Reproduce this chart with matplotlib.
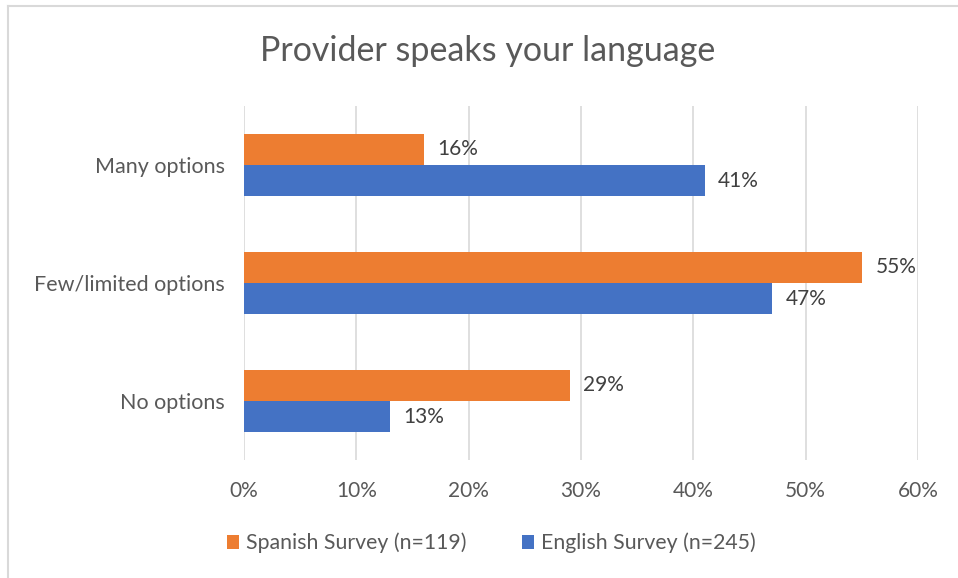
import matplotlib
matplotlib.use('Agg')
import matplotlib.pyplot as plt
import numpy as np
from matplotlib.lines import Line2D

categories = ['Many options', 'Few/limited options', 'No options']
spanish = [16, 55, 29]
english = [41, 47, 13]
series_names = ['Spanish Survey (n=119)', 'English Survey (n=245)']
ticks = [0, 10, 20, 30, 40, 50, 60]

orange = '#ED7D31'
blue = '#4472C4'
plt.rcParams['font.family'] = ['Lato', 'DejaVu Sans']

fig = plt.figure(figsize=(9.58, 5.78), dpi=100)
ax = fig.add_axes([244 / 958, 1 - 460 / 578, (918 - 244) / 958, (460 - 106) / 578])

y = np.arange(len(categories))[::-1].astype(float)
h = 0.263
b1 = ax.barh(y + h / 2, spanish, height=h, color=orange, label=series_names[0], zorder=3)
b2 = ax.barh(y - h / 2, english, height=h, color=blue, label=series_names[1], zorder=3)

for bars in (b1, b2):
    for r in bars:
        w = r.get_width()
        ax.text(w + 1.2, r.get_y() + r.get_height() / 2, f'{w:.0f}%',
                va='center', ha='left', fontsize=15, color='#404040')

ax.set_xlim(0, 60)
ax.set_ylim(-0.5, 2.5)
ax.set_xticks(ticks)
ax.set_xticklabels([f'{t}%' for t in ticks], fontsize=15, color='#595959')
ax.set_yticks(y)
ax.set_yticklabels(categories, fontsize=15.5, color='#595959')
ax.tick_params(axis='both', length=0)
ax.tick_params(axis='x', pad=15)
ax.tick_params(axis='y', pad=14)
ax.grid(axis='x', color='#D9D9D9', linewidth=1.2, zorder=0)
for s in ax.spines.values():
    s.set_visible(False)

fig.text(488 / 958, 1 - 51 / 578, 'Provider speaks your language', ha='center', va='center',
         fontsize=24.5, color='#595959')

fig.legend(handles=[b1, b2], labels=series_names, loc='center', ncol=2,
           bbox_to_anchor=(491 / 958, 1 - 543 / 578), frameon=False, fontsize=15.3,
           labelcolor='#595959', handlelength=0.6, handleheight=0.6,
           handletextpad=0.3, columnspacing=2.6)

fig.add_artist(Line2D([8 / 958, 8 / 958], [0, 1 - 6 / 578], color='#D9D9D9', linewidth=1.5))
fig.add_artist(Line2D([8 / 958, 1], [1 - 6 / 578, 1 - 6 / 578], color='#D9D9D9', linewidth=1.5))

fig.savefig('out.png', dpi=100)
